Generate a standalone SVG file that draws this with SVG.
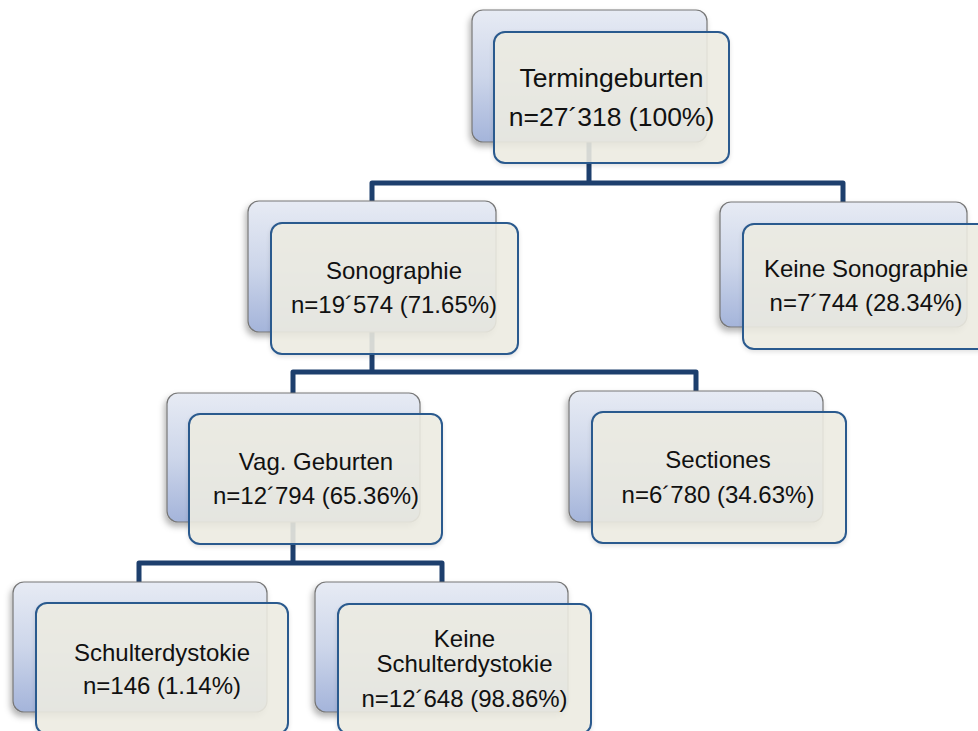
<svg xmlns="http://www.w3.org/2000/svg" width="978" height="731" viewBox="0 0 978 731">
<defs>
<linearGradient id="bg" x1="0" y1="0" x2="0" y2="1">
<stop offset="0" stop-color="#e7ebf4"/>
<stop offset="0.5" stop-color="#cdd6ea"/>
<stop offset="1" stop-color="#a4b4da"/>
</linearGradient>
<filter id="sh" x="-10%" y="-10%" width="130%" height="130%">
<feDropShadow dx="-2" dy="4" stdDeviation="3" flood-color="#000" flood-opacity="0.3"/>
</filter>
<filter id="sh2" x="-10%" y="-10%" width="130%" height="130%">
<feDropShadow dx="0" dy="2" stdDeviation="2" flood-color="#000" flood-opacity="0.12"/>
</filter>
</defs>
<style>
.back{fill:url(#bg);stroke:#777;stroke-width:1.2;filter:url(#sh)}
.front{fill:#eeede2;fill-opacity:0.88;stroke:#2c5a8e;stroke-width:2;filter:url(#sh2)}
.c{fill:none;stroke:#1d3f6d;stroke-width:5;stroke-linejoin:round}
text{font-family:"Liberation Sans",Arial,sans-serif;font-size:24px;fill:#111;text-anchor:middle}
.big{font-size:26.5px}
</style>
<rect width="978" height="731" fill="#fff"/>
<g id="connectors">
<path class="c" d="M589,142 V183 M372,201 V183 H843 V202"/>
<path class="c" d="M372,332 V372 M293,393 V372 H696 V391"/>
<path class="c" d="M293,522 V563 M139,582 V563 H442 V582"/>
</g>
<g id="n1">
<rect class="back" x="472" y="10" width="235" height="132" rx="11"/>
<rect class="front" x="494" y="32" width="235" height="131" rx="11"/>
<text class="big" x="611.5" y="87">Termingeburten</text>
<text class="big" x="611.5" y="126">n=27´318 (100%)</text>
</g>
<g id="n2">
<rect class="back" x="248" y="201" width="248" height="131" rx="11"/>
<rect class="front" x="271" y="223" width="247" height="131" rx="11"/>
<text x="394" y="279">Sonographie</text>
<text x="394" y="313">n=19´574 (71.65%)</text>
</g>
<g id="n3">
<rect class="back" x="720" y="202" width="247" height="125" rx="11"/>
<rect class="front" x="743" y="224" width="247" height="125" rx="11"/>
<text x="866" y="277">Keine Sonographie</text>
<text x="866" y="311">n=7´744 (28.34%)</text>
</g>
<g id="n4">
<rect class="back" x="167" y="393" width="253" height="129" rx="11"/>
<rect class="front" x="189" y="414" width="253" height="130" rx="11"/>
<text x="316" y="470">Vag. Geburten</text>
<text x="316" y="504">n=12´794 (65.36%)</text>
</g>
<g id="n5">
<rect class="back" x="569" y="391" width="254" height="131" rx="11"/>
<rect class="front" x="592" y="412" width="254" height="131" rx="11"/>
<text x="718" y="468">Sectiones</text>
<text x="718" y="503">n=6´780 (34.63%)</text>
</g>
<g id="n6">
<rect class="back" x="13" y="582" width="254" height="130" rx="11"/>
<rect class="front" x="36" y="603" width="252" height="131" rx="11"/>
<text x="162" y="661">Schulterdystokie</text>
<text x="162" y="694">n=146 (1.14%)</text>
</g>
<g id="n7">
<rect class="back" x="315" y="582" width="253" height="130" rx="11"/>
<rect class="front" x="338" y="604" width="253" height="130" rx="11"/>
<text x="464.5" y="647">Keine</text>
<text x="464.5" y="672">Schulterdystokie</text>
<text x="464.5" y="707">n=12´648 (98.86%)</text>
</g>
</svg>
